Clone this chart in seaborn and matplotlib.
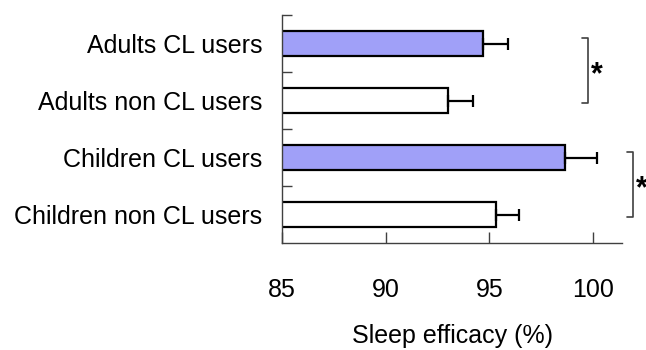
import matplotlib
matplotlib.use('Agg')
import matplotlib.pyplot as plt
import pandas as pd
import seaborn as sns

# Sleep efficacy per group (mean and SEM)
groups = ['Adults CL users', 'Adults non CL users', 'Children CL users', 'Children non CL users']
efficacy = [94.7, 93.0, 98.65, 95.3]
sem = [1.2, 1.2, 1.55, 1.15]
cl_user = ['yes', 'no', 'yes', 'no']
xticks = [85, 90, 95, 100]
# significance brackets: (first group, second group)
sig_pairs = [(0, 1), (2, 3)]

pal = {'yes': '#A0A0F8', 'no': 'white'}

sns.set_style('ticks')
plt.rcParams['font.family'] = ['Liberation Sans', 'DejaVu Sans']
plt.rcParams['text.color'] = 'black'
plt.rcParams['axes.labelcolor'] = 'black'
plt.rcParams['xtick.labelcolor'] = 'black'
plt.rcParams['ytick.labelcolor'] = 'black'

df = pd.DataFrame({'group': groups, 'eff': efficacy, 'sem': sem, 'cl': cl_user})

fig = plt.figure(figsize=(6.46, 3.5), dpi=100)
ax = fig.add_axes([0.4365, 0.3057, 0.5265, 0.6514])

sns.barplot(data=df, y='group', x='eff', hue='cl', palette=pal, dodge=False,
            orient='h', width=0.44, saturation=1, edgecolor='black', linewidth=1.6,
            legend=False, ax=ax, zorder=2)

# one-sided error bars
ax.errorbar(df['eff'], range(len(groups)), xerr=[[0] * len(sem), df['sem']],
            fmt='none', ecolor='black', elinewidth=1.6, capsize=4, capthick=1.6, zorder=3)

ax.set_xlim(85, 101.4)
ax.set_ylim(3.5, -0.5)
ax.set_xticks(xticks)
ax.set_xticklabels([str(t) for t in xticks])

# category separators as inward ticks on the y axis
ax.set_yticks([-0.5, 0.5, 1.5, 2.5], minor=True)
ax.tick_params(axis='y', which='major', length=0, pad=14, labelsize=18)
ax.tick_params(axis='y', which='minor', direction='in', length=7, width=1, color='#404040')
ax.tick_params(axis='x', direction='in', length=8, width=1, pad=25, labelsize=18, color='#404040')

ax.set_xlabel('Sleep efficacy (%)', fontsize=18, labelpad=16)
ax.set_ylabel('')

sns.despine(ax=ax)
for side in ['left', 'bottom']:
    ax.spines[side].set_color('#404040')
    ax.spines[side].set_linewidth(1)

# significance brackets
bx = [99.76, 101.93]
for (a, b), x in zip(sig_pairs, bx):
    y0, y1 = a - 0.09, b + 0.05
    ax.plot([x - 0.3, x, x, x - 0.3], [y0, y0, y1, y1], color='#404040', lw=1.2,
            clip_on=False, zorder=4)
    ax.text(x + 0.12, (y0 + y1) / 2 + 0.08, '*', fontsize=22, fontweight='bold',
            ha='left', va='center', clip_on=False)

fig.savefig('out.png', dpi=100)
